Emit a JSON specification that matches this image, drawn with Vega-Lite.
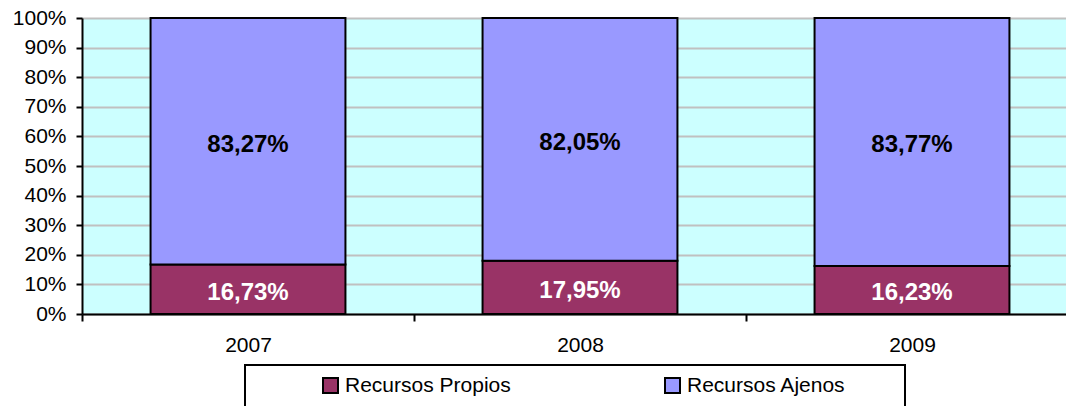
{
  "$schema": "https://vega.github.io/schema/vega-lite/v6.json",
  "autosize": {"type": "none"},
  "width": 984,
  "height": 296,
  "padding": {"left": 82, "top": 18, "right": 0, "bottom": 92},
  "background": "white",
  "config": {
    "locale": {"number": {"decimal": ",", "thousands": ".", "grouping": [3], "currency": ["", " €"]}},
    "view": {"fill": "#CCFFFF", "stroke": null},
    "font": "Liberation Sans",
    "legend": {"strokeWidth": 2},
    "axisY": {
      "grid": true, "gridColor": "#C0C0C0", "gridWidth": 2,
      "domainColor": "black", "domainWidth": 2,
      "tickColor": "black", "tickWidth": 2, "tickSize": 6,
      "labelFontSize": 21, "labelColor": "black", "labelPadding": 10,
      "labelFont": "Liberation Sans", "labelOverlap": false
    }
  },
  "data": {
    "values": [
      {"year": "2007", "serie": "Recursos Propios", "ord": 1, "value": 0.1673},
      {"year": "2007", "serie": "Recursos Ajenos", "ord": 2, "value": 0.8327},
      {"year": "2008", "serie": "Recursos Propios", "ord": 1, "value": 0.1795},
      {"year": "2008", "serie": "Recursos Ajenos", "ord": 2, "value": 0.8205},
      {"year": "2009", "serie": "Recursos Propios", "ord": 1, "value": 0.1623},
      {"year": "2009", "serie": "Recursos Ajenos", "ord": 2, "value": 0.8377}
    ]
  },
  "transform": [
    {"stack": "value", "groupby": ["year"], "sort": [{"field": "ord", "order": "ascending"}], "as": ["v0", "v1"]},
    {"calculate": "(datum.v0 + datum.v1) / 2", "as": "mid"}
  ],
  "encoding": {
    "x": {
      "field": "year", "type": "nominal", "title": null,
      "scale": {"range": [0, 996], "paddingInner": 0, "paddingOuter": 0},
      "axis": {
        "domainColor": "black", "domainWidth": 2,
        "tickBand": "extent", "tickColor": "black", "tickWidth": 2, "tickSize": 7,
        "labelAngle": 0, "labelFontSize": 21, "labelColor": "black", "labelPadding": 13,
        "labelFont": "Liberation Sans"
      }
    }
  },
  "layer": [
    {
      "mark": {"type": "bar", "width": {"band": 0.587}, "stroke": "black", "strokeWidth": 2},
      "encoding": {
        "y": {
          "field": "v1", "type": "quantitative", "title": null,
          "scale": {"domain": [0, 1], "nice": false},
          "axis": {"format": ".0%", "values": [0, 0.1, 0.2, 0.3, 0.4, 0.5, 0.6, 0.7, 0.8, 0.9, 1]}
        },
        "y2": {"field": "v0"},
        "color": {
          "field": "serie", "type": "nominal",
          "scale": {"domain": ["Recursos Propios", "Recursos Ajenos"], "range": ["#993366", "#9999FF"]},
          "legend": {
            "title": "\u00a0", "titleOrient": "right", "titlePadding": 49, "titleFontSize": 21,
            "orient": "none", "direction": "horizontal",
            "legendX": 163, "legendY": 347,
            "strokeColor": "black", "fillColor": "white",
            "padding": 10, "symbolOffset": 65,
            "symbolType": "square", "symbolSize": 225, "symbolStrokeColor": "black", "symbolStrokeWidth": 2,
            "symbolOpacity": 1,
            "labelFontSize": 21, "labelColor": "black", "labelOffset": 4, "labelFont": "Liberation Sans",
            "labelLimit": 500,
            "columnPadding": 86
          }
        }
      }
    },
    {
      "mark": {"type": "text", "fontSize": 24, "fontWeight": "bold", "baseline": "middle", "font": "Liberation Sans", "dy": 3.5},
      "encoding": {
        "y": {
          "field": "mid", "type": "quantitative", "title": null,
          "axis": {"format": ".0%", "values": [0, 0.1, 0.2, 0.3, 0.4, 0.5, 0.6, 0.7, 0.8, 0.9, 1]}
        },
        "text": {"field": "value", "type": "quantitative", "format": ".2%"},
        "color": {
          "condition": {"test": "datum.serie === 'Recursos Propios'", "value": "white"},
          "value": "black"
        }
      }
    }
  ]
}
